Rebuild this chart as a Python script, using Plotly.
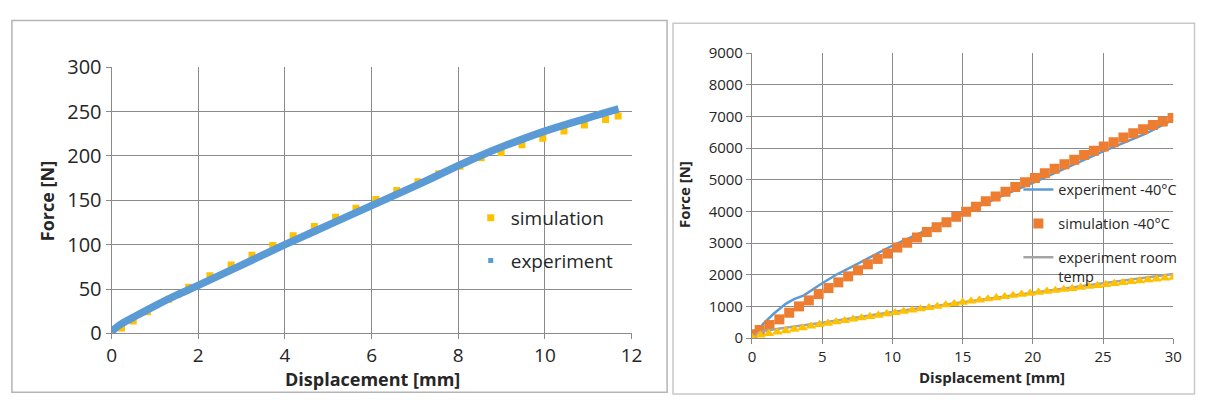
import plotly.graph_objects as go

# ---------------- Left chart data ----------------
left_sim_x = [0.0, 0.23, 0.5, 0.83, 1.32, 1.78, 2.27, 2.76, 3.24, 3.72, 4.19, 4.68, 5.17,
              5.64, 6.1, 6.58, 7.07, 7.55, 8.04, 8.53, 8.99, 9.47, 9.95, 10.44, 10.91, 11.4, 11.69]
left_sim_y = [0, 6, 14, 24.5, 38.5, 52, 65, 77, 88, 99, 110, 120.5, 131,
              141, 151, 161, 171, 180, 188.5, 198, 204, 212.5, 220, 228, 235, 241, 245]

left_exp_x = [0, 0.2, 0.5, 1, 1.5, 2, 3, 4, 5, 6, 7, 8, 8.5, 9, 10, 11, 11.7]
left_exp_y = [2, 10, 18, 31, 43, 54, 77, 100, 122, 144, 166, 189, 200, 210, 228, 243, 253]

# ---------------- Right chart data ----------------
exp40_x = [0.3, 0.8, 1.5, 2.4, 3.0, 3.7, 5.0, 6.0, 7.2, 8.5, 9.9, 12, 15, 18, 20, 22, 25, 28, 30]
exp40_y = [150, 450, 750, 1080, 1230, 1350, 1730, 2000, 2270, 2570, 2900, 3320, 3930, 4530,
           4900, 5300, 5900, 6450, 6900]

sim40_x = [0.05, 0.55, 1.25, 1.95, 2.65, 3.35, 4.05, 4.75, 5.45, 6.15, 6.85, 7.55, 8.25, 8.95,
           9.65, 10.35, 11.05, 11.75, 12.45, 13.15, 13.85, 14.55, 15.25, 15.95, 16.65, 17.35,
           18.05, 18.75, 19.45, 20.15, 20.85, 21.55, 22.25, 22.95, 23.65, 24.35, 25.05, 25.75,
           26.45, 27.15, 27.85, 28.55, 29.25, 29.95]
sim40_y = [120, 250, 410, 590, 800, 1000, 1190, 1390, 1580, 1760, 1950, 2140, 2330, 2500,
           2670, 2860, 3010, 3180, 3350, 3500, 3660, 3830, 3990, 4150, 4320, 4470,
           4620, 4770, 4920, 5060, 5210, 5350, 5490, 5630, 5780, 5920, 6050, 6190,
           6340, 6470, 6600, 6730, 6840, 6950]

exprt_x = [0.2, 0.5, 1, 2, 5, 10, 15, 20, 25, 30]
exprt_y = [60, 180, 230, 300, 480, 820, 1130, 1440, 1730, 2020]

simrt_x = [0.0, 0.6, 1.2, 1.8, 2.4, 3.0, 3.6, 4.2, 4.8, 5.4, 6.0, 6.6, 7.2, 7.8, 8.4, 9.0,
           9.6, 10.2, 10.8, 11.4, 12.0, 12.6, 13.2, 13.8, 14.4, 15.0, 15.6, 16.2, 16.8, 17.4,
           18.0, 18.6, 19.2, 19.8, 20.4, 21.0, 21.6, 22.2, 22.8, 23.4, 24.0, 24.6, 25.2, 25.8,
           26.4, 27.0, 27.6, 28.2, 28.8, 29.4, 30.0]
simrt_y = [20, 90, 140, 185, 230, 275, 320, 375, 425, 465, 510, 550, 595, 635, 680, 720,
           765, 800, 840, 880, 920, 960, 1000, 1045, 1085, 1130, 1165, 1200, 1235, 1270,
           1305, 1345, 1380, 1415, 1445, 1475, 1505, 1535, 1565, 1600, 1630, 1660, 1690, 1720,
           1750, 1780, 1810, 1840, 1865, 1895, 1920]

left_xticks = [0, 2, 4, 6, 8, 10, 12]
left_yticks = [0, 50, 100, 150, 200, 250, 300]
right_xticks = [0, 5, 10, 15, 20, 25, 30]
right_yticks = [0, 1000, 2000, 3000, 4000, 5000, 6000, 7000, 8000, 9000]

BLUE = "#5B9BD5"
ORANGE = "#ED7D31"
YELLOW = "#FFC000"
GRAY = "#A5A5A5"
GRID = "#8A8A8A"
FONT = "Open Sans"
W, H = 1206, 408

fig = go.Figure()

# Left chart
fig.add_trace(go.Scatter(x=left_sim_x, y=left_sim_y, mode="markers", name="simulation",
                         marker=dict(symbol="square", size=7, color=YELLOW),
                         xaxis="x", yaxis="y", legend="legend", legendgroup="a"))
fig.add_trace(go.Scatter(x=left_exp_x, y=left_exp_y, mode="lines", name="experiment",
                         line=dict(color=BLUE, width=7.5, shape="spline"),
                         xaxis="x", yaxis="y", showlegend=False))
fig.add_trace(go.Scatter(x=[None], y=[None], mode="markers", name="experiment",
                         marker=dict(symbol="square", size=5, color=BLUE),
                         xaxis="x", yaxis="y", legend="legend", legendgroup="b"))

# Right chart
fig.add_trace(go.Scatter(x=exp40_x, y=exp40_y, mode="lines", name="experiment -40°C",
                         line=dict(color=BLUE, width=2.5),
                         xaxis="x2", yaxis="y2", legend="legend2", legendgroup="c"))
fig.add_trace(go.Scatter(x=sim40_x, y=sim40_y, mode="markers", name="simulation -40°C",
                         marker=dict(symbol="square", size=10, color=ORANGE),
                         xaxis="x2", yaxis="y2", legend="legend2", legendgroup="d"))
fig.add_trace(go.Scatter(x=exprt_x, y=exprt_y, mode="lines", name="experiment room<br>temp",
                         line=dict(color=GRAY, width=2.5),
                         xaxis="x2", yaxis="y2", legend="legend2", legendgroup="e"))
fig.add_trace(go.Scatter(x=simrt_x, y=simrt_y, mode="markers", name="simulation room temp",
                         marker=dict(symbol="triangle-up", size=9.5, color=YELLOW),
                         xaxis="x2", yaxis="y2", showlegend=False))

axis_common = dict(showgrid=True, gridcolor=GRID, gridwidth=1, zeroline=False,
                   showline=True, linecolor=GRID, linewidth=1,
                   ticks="outside", ticklen=5, tickcolor=GRID)

fig.update_layout(
    width=W, height=H, autosize=False,
    margin=dict(l=0, r=0, t=0, b=0),
    paper_bgcolor="white", plot_bgcolor="white",
    font=dict(family=FONT, color="#333333"),
    xaxis=dict(domain=[108 / W, 635 / W], range=[0, 12], tickvals=left_xticks,
               anchor="y", tickfont=dict(family=FONT, size=19, color="#262626"), **axis_common),
    yaxis=dict(domain=[1 - 342 / H, 1 - 57 / H], range=[0, 300], tickvals=left_yticks,
               anchor="x", tickfont=dict(family=FONT, size=20, color="#262626"), **axis_common),
    xaxis2=dict(domain=[757 / W, 1184 / W], range=[0, 30], tickvals=right_xticks,
                anchor="y2", tickfont=dict(family=FONT, size=15, color="#262626"), **axis_common),
    yaxis2=dict(domain=[1 - 347 / H, 1 - 42 / H], range=[0, 9000], tickvals=right_yticks,
                anchor="x2", tickfont=dict(family=FONT, size=15, color="#262626"), **axis_common),
    legend=dict(x=472 / W, y=1 - 198 / H, xanchor="left", yanchor="top",
                bgcolor="rgba(0,0,0,0)", font=dict(family=FONT, size=19, color="#262626"),
                traceorder="grouped", tracegroupgap=15, itemwidth=30),
    legend2=dict(x=1027 / W, y=1 - 171 / H, xanchor="left", yanchor="top",
                 bgcolor="rgba(0,0,0,0)", font=dict(family=FONT, size=14.5, color="#262626"),
                 traceorder="grouped", tracegroupgap=12, itemwidth=30, valign="top"),
)

# Axis titles
title_font_l = dict(family=FONT, size=18, color="#262626")
title_font_r = dict(family=FONT, size=15, color="#262626")
fig.add_annotation(text="<b>Displacement [mm]</b>", x=372 / W, y=1 - 391 / H, xref="paper", yref="paper",
                   showarrow=False, font=title_font_l, xanchor="center", yanchor="middle")
fig.add_annotation(text="<b>Force [N]</b>", x=42 / W, y=1 - 200 / H, xref="paper", yref="paper",
                   showarrow=False, font=title_font_l, textangle=-90, xanchor="center", yanchor="middle")
fig.add_annotation(text="<b>Displacement [mm]</b>", x=1000 / W, y=1 - 389 / H, xref="paper", yref="paper",
                   showarrow=False, font=title_font_r, xanchor="center", yanchor="middle")
fig.add_annotation(text="<b>Force [N]</b>", x=688 / W, y=1 - 193 / H, xref="paper", yref="paper",
                   showarrow=False, font=title_font_r, textangle=-90, xanchor="center", yanchor="middle")

# Panel borders
fig.add_shape(type="rect", xref="paper", yref="paper", x0=7 / W, x1=671 / W, y0=1 - 405 / H, y1=1 - 7 / H,
              line=dict(color="#B4B4B4", width=1.5))
fig.add_shape(type="rect", xref="paper", yref="paper", x0=677 / W, x1=1205.5 / W, y0=1 - 407 / H, y1=1 - 10 / H,
              line=dict(color="#C8C8C8", width=1.5))

fig.write_html("out.html", config={"displayModeBar": False},
               post_script="document.body.style.margin='0';")
